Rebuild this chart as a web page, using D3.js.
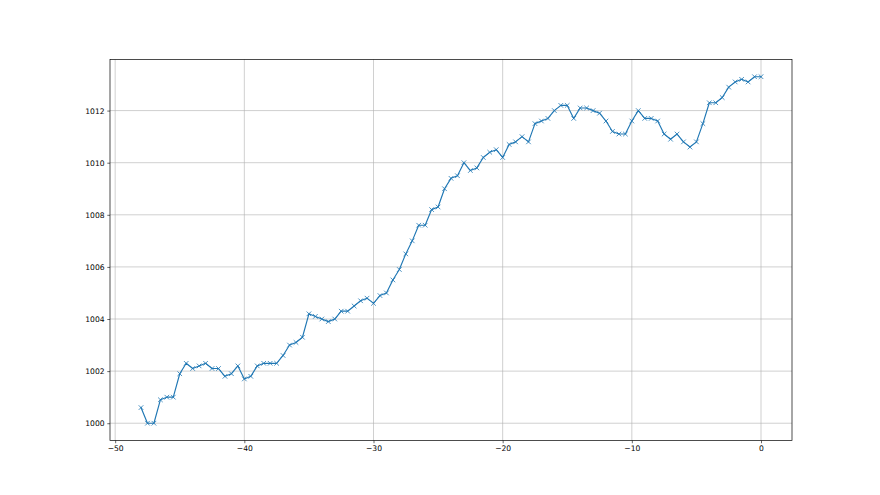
<!DOCTYPE html>
<html>
<head>
<meta charset="utf-8">
<script src="https://cdn.jsdelivr.net/npm/d3@7"></script>
<style>
  html, body { margin: 0; padding: 0; background: #fff; }
  svg { display: block; }
  .tick text { font-family: "DejaVu Sans", sans-serif; font-size: 7.6px; fill: #000; }
</style>
</head>
<body>
<div id="chart"></div>
<script>
const hours = [
  -48, -47.5, -47, -46.5, -46, -45.5, -45, -44.5, -44, -43.5,
  -43, -42.5, -42, -41.5, -41, -40.5, -40, -39.5, -39, -38.5,
  -38, -37.5, -37, -36.5, -36, -35.5, -35, -34.5, -34, -33.5,
  -33, -32.5, -32, -31.5, -31, -30.5, -30, -29.5, -29, -28.5,
  -28, -27.5, -27, -26.5, -26, -25.5, -25, -24.5, -24, -23.5,
  -23, -22.5, -22, -21.5, -21, -20.5, -20, -19.5, -19, -18.5,
  -18, -17.5, -17, -16.5, -16, -15.5, -15, -14.5, -14, -13.5,
  -13, -12.5, -12, -11.5, -11, -10.5, -10, -9.5, -9, -8.5,
  -8, -7.5, -7, -6.5, -6, -5.5, -5, -4.5, -4, -3.5,
  -3, -2.5, -2, -1.5, -1, -0.5, 0
];
const pressure = [
  1000.6, 1000.0, 1000.0, 1000.9, 1001.0, 1001.0, 1001.9, 1002.3, 1002.1, 1002.2,
  1002.3, 1002.1, 1002.1, 1001.8, 1001.9, 1002.2, 1001.7, 1001.8, 1002.2, 1002.3,
  1002.3, 1002.3, 1002.6, 1003.0, 1003.1, 1003.3, 1004.2, 1004.1, 1004.0, 1003.9,
  1004.0, 1004.3, 1004.3, 1004.5, 1004.7, 1004.8, 1004.6, 1004.9, 1005.0, 1005.5,
  1005.9, 1006.5, 1007.0, 1007.6, 1007.6, 1008.2, 1008.3, 1009.0, 1009.4, 1009.5,
  1010.0, 1009.7, 1009.8, 1010.2, 1010.4, 1010.5, 1010.2, 1010.7, 1010.8, 1011.0,
  1010.8, 1011.5, 1011.6, 1011.7, 1012.0, 1012.2, 1012.2, 1011.7, 1012.1, 1012.1,
  1012.0, 1011.9, 1011.6, 1011.2, 1011.1, 1011.1, 1011.6, 1012.0, 1011.7, 1011.7,
  1011.6, 1011.1, 1010.9, 1011.1, 1010.8, 1010.6, 1010.8, 1011.5, 1012.3, 1012.3,
  1012.5, 1012.9, 1013.1, 1013.2, 1013.1, 1013.3, 1013.3
];
const xTicks = [-50, -40, -30, -20, -10, 0];
const yTicks = [1000, 1002, 1004, 1006, 1008, 1010, 1012];

(function () {
  const W = 880, H = 495;
  const mLeft = 110, mRight = 792, mTop = 59.4, mBottom = 440.55;
  const color = "#1f77b4";

  const data = hours.map((h, i) => ({ x: h, y: pressure[i] }));

  function padded(ext) {
    const d = (ext[1] - ext[0]) * 0.05;
    return [ext[0] - d, ext[1] + d];
  }

  const x = d3.scaleLinear().domain(padded(d3.extent(hours))).range([mLeft, mRight]);
  const y = d3.scaleLinear().domain(padded(d3.extent(pressure))).range([mBottom, mTop]);

  const svg = d3.select("#chart").append("svg").attr("width", W).attr("height", H);
  svg.append("rect").attr("width", W).attr("height", H).attr("fill", "#fff");

  // grid
  const grid = svg.append("g").attr("stroke", "#b0b0b0").attr("stroke-width", 0.6);
  grid.selectAll(".vx").data(xTicks).join("line").attr("class", "vx")
    .attr("x1", d => x(d)).attr("x2", d => x(d)).attr("y1", mTop).attr("y2", mBottom);
  grid.selectAll(".hy").data(yTicks).join("line").attr("class", "hy")
    .attr("y1", d => y(d)).attr("y2", d => y(d)).attr("x1", mLeft).attr("x2", mRight);

  // line
  svg.append("path").datum(data)
    .attr("fill", "none").attr("stroke", color).attr("stroke-width", 1.15)
    .attr("stroke-linejoin", "round").attr("stroke-linecap", "square")
    .attr("d", d3.line().x(d => x(d.x)).y(d => y(d.y)));

  // x markers
  const ms = 2.3;
  svg.append("g").selectAll("path").data(data).join("path")
    .attr("transform", d => `translate(${x(d.x)},${y(d.y)})`)
    .attr("d", `M${-ms},${-ms}L${ms},${ms}M${-ms},${ms}L${ms},${-ms}`)
    .attr("stroke", color).attr("stroke-width", 0.8).attr("fill", "none");

  // axes
  const fmt = d3.format("d");
  const xAxis = d3.axisBottom(x).tickValues(xTicks).tickFormat(d => fmt(d)).tickSize(2.7).tickPadding(2.7);
  const yAxis = d3.axisLeft(y).tickValues(yTicks).tickFormat(d => fmt(d)).tickSize(2.7).tickPadding(2.7);
  const gx = svg.append("g").attr("transform", `translate(0,${mBottom})`).call(xAxis);
  const gy = svg.append("g").attr("transform", `translate(${mLeft},0)`).call(yAxis);
  [gx, gy].forEach(g => {
    g.select(".domain").remove();
    g.selectAll(".tick line").attr("stroke", "#000").attr("stroke-width", 0.6);
  });

  // spines
  svg.append("rect").attr("x", mLeft).attr("y", mTop)
    .attr("width", mRight - mLeft).attr("height", mBottom - mTop)
    .attr("fill", "none").attr("stroke", "#000").attr("stroke-width", 0.7);
})();
</script>
</body>
</html>
